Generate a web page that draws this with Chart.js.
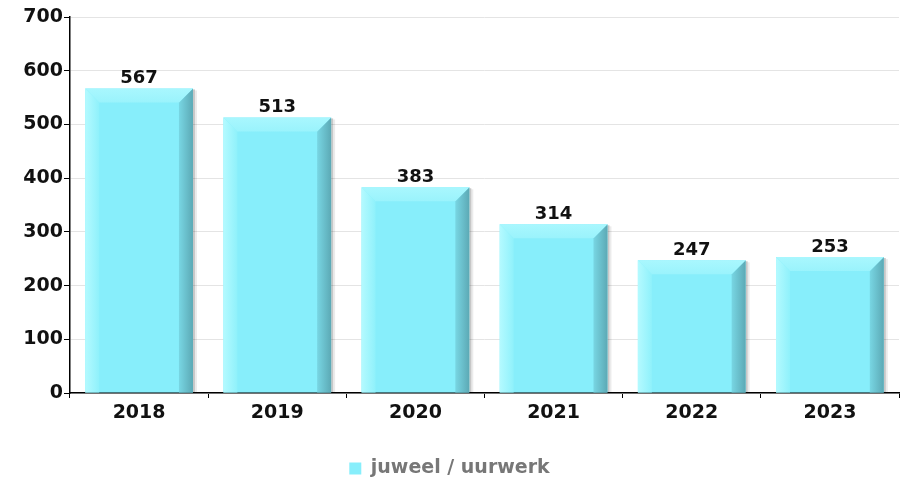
<!DOCTYPE html>
<html>
<head>
<meta charset="utf-8">
<script src="https://cdn.jsdelivr.net/npm/chart.js@4/dist/chart.umd.min.js"></script>
<style>
  html, body { margin: 0; padding: 0; background: #fff; }
  #wrap { width: 912px; height: 481px; }
</style>
</head>
<body>
<div id="wrap"><canvas id="chart" width="912" height="481"></canvas></div>
<script>
const years = ["2018", "2019", "2020", "2021", "2022", "2023"];
const counts = [567, 513, 383, 314, 247, 253];
const seriesName = "juweel / uurwerk";
const yTicks = [0, 100, 200, 300, 400, 500, 600, 700];

const faceColor = "#87eefb";
const labelFont = { family: "'DejaVu Sans'", size: 19, weight: "bold" };

// bevelled look + value labels, drawn on top of the library's bar elements
const bevelBars = {
  id: "bevelBars",
  afterDatasetsDraw(chart) {
    const ctx = chart.ctx;
    const meta = chart.getDatasetMeta(0);
    meta.data.forEach((bar, i) => {
      const left = bar.x - bar.width / 2;
      const right = bar.x + bar.width / 2;
      const top = bar.y;
      const bottom = bar.base;
      const b = 14;
      ctx.save();

      // soft shadow on the right
      ctx.fillStyle = "rgba(0,0,0,0.22)";
      ctx.fillRect(right, top + 1, 2, bottom - top - 1);
      ctx.fillStyle = "rgba(0,0,0,0.08)";
      ctx.fillRect(right + 2, top + 2, 2, bottom - top - 2);

      // left bevel
      let g = ctx.createLinearGradient(left, 0, left + b, 0);
      g.addColorStop(0, "#b4faff");
      g.addColorStop(1, "#8ff1fb");
      ctx.fillStyle = g;
      ctx.beginPath();
      ctx.moveTo(left, top);
      ctx.lineTo(left + b, top + b);
      ctx.lineTo(left + b, bottom);
      ctx.lineTo(left, bottom);
      ctx.closePath();
      ctx.fill();

      // right bevel
      g = ctx.createLinearGradient(right - b, 0, right, 0);
      g.addColorStop(0, "#78d6e3");
      g.addColorStop(1, "#5ca9b5");
      ctx.fillStyle = g;
      ctx.beginPath();
      ctx.moveTo(right, top);
      ctx.lineTo(right, bottom);
      ctx.lineTo(right - b, bottom);
      ctx.lineTo(right - b, top + b);
      ctx.closePath();
      ctx.fill();

      // top bevel
      g = ctx.createLinearGradient(0, top, 0, top + b);
      g.addColorStop(0, "#a9f7fe");
      g.addColorStop(1, "#9af3fc");
      ctx.fillStyle = g;
      ctx.beginPath();
      ctx.moveTo(left, top);
      ctx.lineTo(right, top);
      ctx.lineTo(right - b, top + b);
      ctx.lineTo(left + b, top + b);
      ctx.closePath();
      ctx.fill();

      // value label
      ctx.fillStyle = "#111";
      ctx.font = "bold 18px 'DejaVu Sans'";
      ctx.textAlign = "center";
      ctx.textBaseline = "bottom";
      ctx.fillText(String(counts[i]), bar.x, top - 1);
      ctx.restore();
    });
  }
};

new Chart(document.getElementById("chart"), {
  type: "bar",
  data: {
    labels: years,
    datasets: [{
      label: seriesName,
      data: counts,
      backgroundColor: faceColor,
      borderWidth: 0,
      barPercentage: 0.78,
      categoryPercentage: 1
    }]
  },
  options: {
    responsive: false,
    animation: false,
    layout: { padding: { top: 17, right: 13, left: 0, bottom: -7 } },
    plugins: {
      tooltip: { enabled: false },
      legend: {
        position: "bottom",
        labels: {
          boxWidth: 12,
          boxHeight: 12,
          padding: 1,
          color: "#777",
          font: labelFont
        }
      }
    },
    scales: {
      x: {
        afterFit: s => { s.height = 65; },
        grid: { offset: true, drawOnChartArea: false, tickColor: "#000", tickLength: 5 },
        border: { color: "#000", width: 1.5 },
        ticks: { color: "#111", padding: 4, font: labelFont }
      },
      y: {
        min: 0,
        max: 700,
        afterBuildTicks: s => { s.ticks = yTicks.map(v => ({ value: v })); },
        afterFit: s => { s.width = 70; },
        grid: { color: "#e4e4e4", tickColor: "#000", tickLength: 6 },
        border: { color: "#000", width: 1.5 },
        ticks: { color: "#111", padding: 1, font: labelFont }
      }
    }
  },
  plugins: [bevelBars]
});
</script>
</body>
</html>
